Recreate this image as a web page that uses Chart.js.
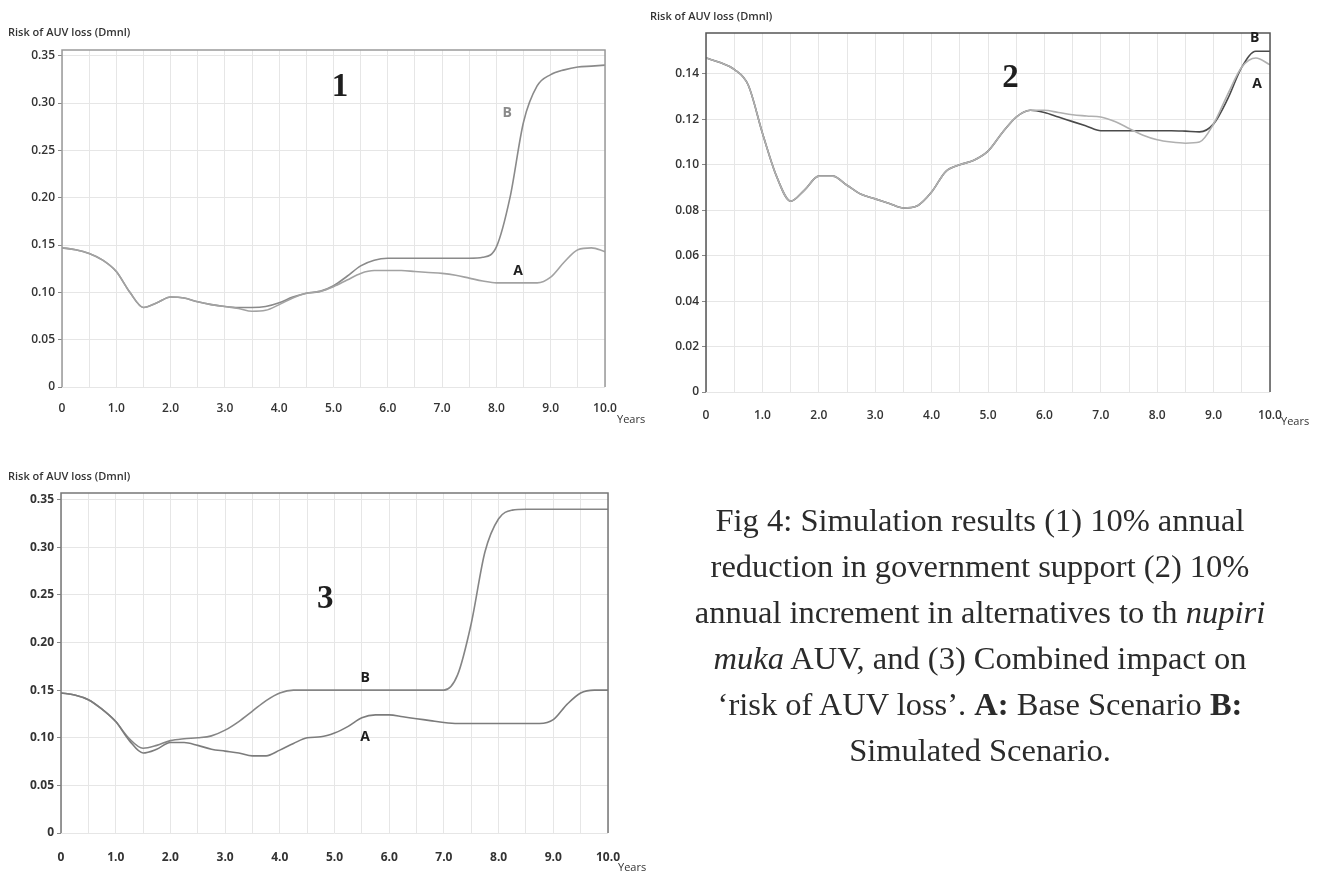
<!DOCTYPE html>
<html lang="en">
<head>
<meta charset="UTF-8">
<title>Fig 4 - Risk of AUV loss</title>
<script src="https://cdn.jsdelivr.net/npm/chart.js@4.4.0/dist/chart.umd.min.js"></script>
<style>
  body { margin: 0; background: #fff; width: 1320px; height: 873px; position: relative; overflow: hidden; }
  canvas { position: absolute; }
  #caption {
    position: absolute; left: 655px; top: 497px; width: 650px;
    text-align: center; font-family: "Liberation Serif", "Times New Roman", serif;
    font-size: 32.5px; line-height: 46px; color: #2b2b2b;
  }
</style>
</head>
<body>
<canvas id="chart1" width="660" height="430" style="left:0;top:0"></canvas>
<canvas id="chart2" width="680" height="440" style="left:640px;top:0"></canvas>
<canvas id="chart3" width="660" height="433" style="left:0;top:440px"></canvas>

<div id="caption">
  Fig 4: Simulation results (1) 10% annual<br>
  reduction in government support (2) 10%<br>
  annual increment in alternatives to th <i>nupiri</i><br>
  <i>muka</i> AUV, and (3) Combined impact on<br>
  ‘risk of AUV loss’. <b>A:</b> Base Scenario <b>B:</b><br>
  Simulated Scenario.
</div>

<script>
    // time axis (years), one value every quarter year
    var years = [0, 0.25, 0.5, 0.75, 1, 1.25, 1.5, 1.75, 2, 2.25, 2.5, 2.75, 3, 3.25, 3.5, 3.75,
                 4, 4.25, 4.5, 4.75, 5, 5.25, 5.5, 5.75, 6, 6.25, 6.5, 6.75, 7, 7.25, 7.5, 7.75,
                 8, 8.25, 8.5, 8.75, 9, 9.25, 9.5, 9.75, 10];

    // panel 1: 10% annual reduction in government support
    var p1_base = [0.147, 0.145, 0.141, 0.134, 0.122, 0.100, 0.084, 0.089, 0.095, 0.094, 0.090, 0.087, 0.085, 0.083, 0.080, 0.081,
                   0.087, 0.094, 0.099, 0.101, 0.106, 0.113, 0.120, 0.123, 0.123, 0.123, 0.122, 0.121, 0.120, 0.118, 0.115, 0.112,
                   0.110, 0.110, 0.110, 0.110, 0.116, 0.132, 0.145, 0.147, 0.143];
    var p1_sim  = [0.147, 0.145, 0.141, 0.134, 0.122, 0.100, 0.084, 0.089, 0.095, 0.094, 0.090, 0.087, 0.085, 0.084, 0.084, 0.085,
                   0.089, 0.095, 0.099, 0.101, 0.107, 0.117, 0.128, 0.134, 0.136, 0.136, 0.136, 0.136, 0.136, 0.136, 0.136, 0.137,
                   0.148, 0.200, 0.280, 0.318, 0.330, 0.335, 0.338, 0.339, 0.340];

    // panel 2: 10% annual increment in alternatives
    var p2_base = [0.147, 0.145, 0.142, 0.135, 0.114, 0.095, 0.084, 0.089, 0.095, 0.095, 0.091, 0.087, 0.085, 0.083, 0.081, 0.082,
                   0.088, 0.097, 0.100, 0.102, 0.106, 0.114, 0.121, 0.124, 0.124, 0.123, 0.122, 0.1215, 0.121, 0.119, 0.116, 0.113,
                   0.111, 0.110, 0.1095, 0.110, 0.118, 0.131, 0.143, 0.147, 0.144];
    var p2_sim  = [0.147, 0.145, 0.142, 0.135, 0.114, 0.095, 0.084, 0.089, 0.095, 0.095, 0.091, 0.087, 0.085, 0.083, 0.081, 0.082,
                   0.088, 0.097, 0.100, 0.102, 0.106, 0.114, 0.121, 0.124, 0.123, 0.121, 0.119, 0.117, 0.115, 0.115, 0.115, 0.115,
                   0.115, 0.115, 0.1148, 0.1145, 0.118, 0.129, 0.143, 0.150, 0.150];

    // panel 3: combined impact
    var p3_base = [0.147, 0.145, 0.140, 0.130, 0.117, 0.097, 0.084, 0.088, 0.095, 0.095, 0.092, 0.088, 0.086, 0.084, 0.081, 0.081,
                   0.087, 0.094, 0.100, 0.101, 0.105, 0.112, 0.121, 0.124, 0.124, 0.122, 0.120, 0.118, 0.116, 0.115, 0.115, 0.115,
                   0.115, 0.115, 0.115, 0.115, 0.119, 0.135, 0.147, 0.150, 0.150];
    var p3_sim  = [0.147, 0.145, 0.140, 0.130, 0.117, 0.099, 0.089, 0.092, 0.097, 0.099, 0.100, 0.102, 0.108, 0.117, 0.128, 0.139,
                   0.147, 0.150, 0.150, 0.150, 0.150, 0.150, 0.150, 0.150, 0.150, 0.150, 0.150, 0.150, 0.150, 0.166, 0.220, 0.295,
                   0.330, 0.339, 0.340, 0.340, 0.340, 0.340, 0.340, 0.340, 0.340];

    // ticks
    var x_grid = [0, 0.5, 1, 1.5, 2, 2.5, 3, 3.5, 4, 4.5, 5, 5.5, 6, 6.5, 7, 7.5, 8, 8.5, 9, 9.5, 10];
    var y_ticks_wide = [0, 0.05, 0.10, 0.15, 0.20, 0.25, 0.30, 0.35];
    var y_ticks_narrow = [0, 0.02, 0.04, 0.06, 0.08, 0.10, 0.12, 0.14];

    var y_title = 'Risk of AUV loss (Dmnl)';
    var x_unit = 'Years';

    function toPoints(vals) {
        var pts = [];
        for (var i = 0; i < years.length; i++) pts.push({x: years[i], y: vals[i]});
        return pts;
    }

    // texts and frame drawn on top of the chart
    var decor = {
        id: 'decor',
        afterDraw: function(chart, args, o) {
            var ctx = chart.ctx, a = chart.chartArea;
            ctx.save();
            // frame: left axis, top, right (no bottom line)
            ctx.strokeStyle = o.frame;
            ctx.lineWidth = 1.5;
            ctx.beginPath();
            ctx.moveTo(a.left, a.bottom); ctx.lineTo(a.left, a.top);
            ctx.lineTo(a.right, a.top); ctx.lineTo(a.right, a.bottom);
            ctx.stroke();

            ctx.fillStyle = '#333';
            ctx.textBaseline = 'middle';
            ctx.textAlign = 'left';
            ctx.font = '600 11px "Open Sans"';
            ctx.fillText(y_title, o.titleX, o.titleY);
            ctx.font = '11px "Open Sans"';
            ctx.fillText(x_unit, a.right + o.unitDx, a.bottom + o.unitDy);

            ctx.textAlign = 'center';
            o.notes.forEach(function(n) {
                var px = chart.scales.x.getPixelForValue(n.x);
                var py = chart.scales.y.getPixelForValue(n.y);
                ctx.font = n.big ? 'bold 33px "Liberation Serif"' : 'bold 14px "Open Sans"';
                ctx.fillStyle = n.color || '#1e1e1e';
                ctx.fillText(n.text, px, py);
            });
            ctx.restore();
        }
    };

    function draw_panel(id, cfg) {
        var ctx = document.getElementById(id);
        var h = ctx.height;
        var tickFont = {family: 'Open Sans', size: 12, weight: cfg.weight};
        return new Chart(ctx, {
            type: 'line',
            data: {
                datasets: [
                    {label: 'A', data: toPoints(cfg.base), borderColor: cfg.colA, borderWidth: 1.6},
                    {label: 'B', data: toPoints(cfg.sim), borderColor: cfg.colB, borderWidth: 1.6}
                ]
            },
            plugins: [decor],
            options: {
                responsive: false,
                animation: false,
                elements: {point: {radius: 0}, line: {cubicInterpolationMode: 'monotone'}},
                layout: {padding: {left: 0, top: cfg.top, right: cfg.right, bottom: 0}},
                scales: {
                    x: {
                        type: 'linear', min: 0, max: 10,
                        afterFit: function(s) { s.height = h - cfg.bottom; },
                        afterBuildTicks: function(s) { s.ticks = x_grid.map(function(v) { return {value: v}; }); },
                        grid: {color: '#e6e6e6', drawTicks: false},
                        border: {display: false},
                        ticks: {
                            autoSkip: false, maxRotation: 0, padding: cfg.xPad,
                            color: '#333', font: tickFont,
                            callback: function(v) {
                                if (v % 1 !== 0) return '';
                                return v === 0 ? '0' : v.toFixed(1);
                            }
                        }
                    },
                    y: {
                        min: 0, max: cfg.ymax,
                        afterFit: function(s) { s.width = cfg.left; },
                        afterBuildTicks: function(s) { s.ticks = cfg.yticks.map(function(v) { return {value: v}; }); },
                        grid: {color: '#e6e6e6', tickLength: 4, tickColor: '#888'},
                        border: {display: false},
                        ticks: {
                            padding: 3, color: '#333', font: tickFont,
                            callback: function(v) { return v === 0 ? '0' : v.toFixed(2); }
                        }
                    }
                },
                plugins: {
                    legend: {display: false},
                    tooltip: {enabled: false},
                    decor: {
                        frame: cfg.frame, titleX: cfg.titleX, titleY: cfg.titleY,
                        unitDx: cfg.unitDx, unitDy: cfg.unitDy, notes: cfg.notes
                    }
                }
            }
        });
    }

    draw_panel('chart1', {
        base: p1_base, sim: p1_sim, colA: '#a2a2a2', colB: '#8a8a8a', weight: '600',
        top: 50, right: 55, left: 62, bottom: 387, ymax: 0.356, yticks: y_ticks_wide, xPad: 14,
        frame: '#9a9a9a', titleX: 8, titleY: 33, unitDx: 12, unitDy: 33,
        notes: [{text: '1', x: 5.12, y: 0.316, big: true},
                {text: 'B', x: 8.2, y: 0.289, color: '#8a8a8a'},
                {text: 'A', x: 8.4, y: 0.122}]
    });

    draw_panel('chart2', {
        base: p2_base, sim: p2_sim, colA: '#b0b0b0', colB: '#4a4a4a', weight: '600',
        top: 33, right: 50, left: 66, bottom: 392, ymax: 0.158, yticks: y_ticks_narrow, xPad: 16,
        frame: '#555', titleX: 10, titleY: 17, unitDx: 11, unitDy: 30,
        notes: [{text: '2', x: 5.4, y: 0.138, big: true},
                {text: 'B', x: 9.73, y: 0.156},
                {text: 'A', x: 9.77, y: 0.1355}]
    });

    draw_panel('chart3', {
        base: p3_base, sim: p3_sim, colA: '#7c7c7c', colB: '#858585', weight: '700',
        top: 53, right: 52, left: 61, bottom: 393, ymax: 0.357, yticks: y_ticks_wide, xPad: 17,
        frame: '#777', titleX: 8, titleY: 37, unitDx: 10, unitDy: 35,
        notes: [{text: '3', x: 4.83, y: 0.245, big: true},
                {text: 'B', x: 5.56, y: 0.163},
                {text: 'A', x: 5.56, y: 0.101}]
    });
</script>
</body>
</html>
